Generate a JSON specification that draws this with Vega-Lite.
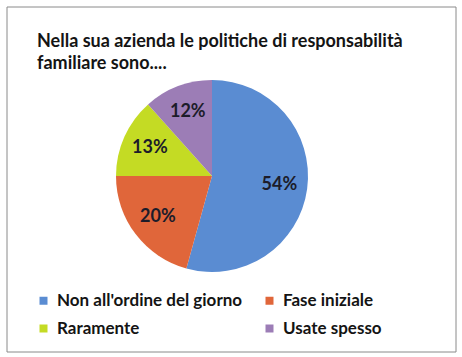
{
  "$schema": "https://vega.github.io/schema/vega-lite/v6.json",
  "width": 449,
  "height": 345,
  "autosize": {"type": "none"},
  "padding": {"left": 7, "top": 7, "right": 6, "bottom": 5},
  "background": "white",
  "config": {
    "view": {"stroke": null},
    "font": "Lato"
  },
  "title": {
    "text": ["Nella sua azienda le politiche di responsabilità", "familiare sono...."],
    "anchor": "start",
    "frame": "group",
    "baseline": "top",
    "font": "Lato",
    "fontSize": 18,
    "fontWeight": "bold",
    "color": "#141414",
    "lineHeight": 22,
    "offset": 0,
    "dx": 30,
    "dy": 66
  },
  "layer": [
    {
      "data": {
        "values": [
          {"categoria": "Non all'ordine del giorno", "valore": 54.3, "etichetta": "54%"},
          {"categoria": "Fase iniziale", "valore": 20.7, "etichetta": "20%"},
          {"categoria": "Raramente", "valore": 13.4, "etichetta": "13%"},
          {"categoria": "Usate spesso", "valore": 11.6, "etichetta": "12%"}
        ]
      },
      "encoding": {
        "theta": {"field": "valore", "type": "quantitative", "stack": true},
        "order": {"field": "valore", "type": "quantitative", "sort": "descending"},
        "color": {
          "field": "categoria",
          "type": "nominal",
          "sort": null,
          "scale": {
            "domain": ["Non all'ordine del giorno", "Fase iniziale", "Raramente", "Usate spesso"],
            "range": ["#5A8CD2", "#E0663A", "#C4DB24", "#9C7DB6"]
          },
          "legend": {
            "title": null,
            "orient": "none",
            "direction": "horizontal",
            "legendX": 28,
            "legendY": 285,
            "columns": 2,
            "columnPadding": 18,
            "rowPadding": 10,
            "symbolType": "square",
            "symbolSize": 64,
            "symbolStrokeWidth": 0,
            "symbolOffset": 0,
            "labelFont": "Lato",
            "labelFontSize": 17,
            "labelFontWeight": "bold",
            "labelColor": "#141414",
            "labelLimit": 300,
            "labelOffset": 5
          }
        }
      },
      "layer": [
        {
          "mark": {"type": "arc", "radius": 96, "x": {"expr": "width/2 - 19.5"}, "y": {"expr": "height/2 - 3.5"}}
        },
        {
          "mark": {"type": "text", "radius": 68, "x": {"expr": "width/2 - 19.5"}, "y": {"expr": "height/2 - 3.5"}, "font": "Lato", "fontSize": 18, "fontWeight": "bold", "fill": "#1c1c2a"},
          "encoding": {
            "text": {"field": "etichetta", "type": "nominal"}
          }
        }
      ]
    },
    {
      "data": {"values": [{"cornice": "bordo"}]},
      "mark": {"type": "rect", "fill": null, "stroke": "#8a8a8a", "strokeWidth": 1},
      "encoding": {}
    }
  ]
}
